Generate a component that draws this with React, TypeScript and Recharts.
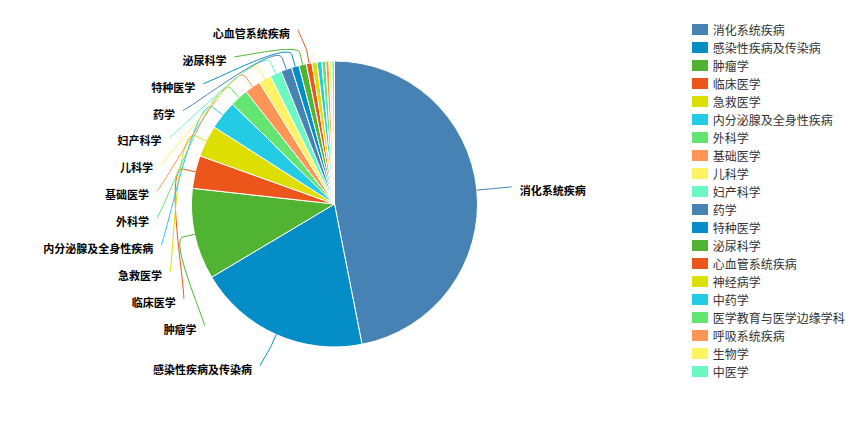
import React from 'react';
import { PieChart, Pie, Cell, Legend } from 'recharts';

// Publication counts by discipline
const categories = [
  '消化系统疾病',
  '感染性疾病及传染病',
  '肿瘤学',
  '临床医学',
  '急救医学',
  '内分泌腺及全身性疾病',
  '外科学',
  '基础医学',
  '儿科学',
  '妇产科学',
  '药学',
  '特种医学',
  '泌尿科学',
  '心血管系统疾病',
  '神经病学',
  '中药学',
  '医学教育与医学边缘学科',
  '呼吸系统疾病',
  '生物学',
  '中医学',
];
const counts = [1689, 703, 371, 134, 129, 118, 74, 65, 51, 47, 44, 31, 30, 23, 21, 19, 16, 13, 11, 11];
const palette = ['#4682B4', '#058DC7', '#50B432', '#ED561B', '#DDDF00', '#24CBE5', '#64E572', '#FF9655', '#FFF263', '#6AF9C4'];

const data = categories.map((name, i) => ({ name, value: counts[i] }));

const WIDTH = 851;
const HEIGHT = 406;
const CX = 326.5;
const CY = 196;
const R = 143;
const STUB = 12; // first, radial leg of each label line
const LABEL_R = 177; // natural label height is taken on this ring
const LINE_R = 178; // label lines end on this ring
const LABEL_H = 26.9; // vertical room per label
const LABEL_GAP = 8;
const MIN_LABEL_ANGLE = 2.2; // degrees; thinner slices get no label
const FONT = '"Noto Sans CJK SC", "Noto Sans", sans-serif';

type LabelPos = { i: number; ux: number; uy: number; side: number; x: number; y: number };

// Places outside labels, pushing overlapping ones down on each side
function layoutLabels(): Map<number, LabelPos> {
  const total = counts.reduce((a, b) => a + b, 0);
  let acc = 0;
  const labels: LabelPos[] = [];
  counts.forEach((v, i) => {
    const start = (acc / total) * 360;
    acc += v;
    const end = (acc / total) * 360;
    if (end - start < MIN_LABEL_ANGLE) return;
    const rad = (((start + end) / 2) * Math.PI) / 180;
    const ux = Math.sin(rad);
    const uy = -Math.cos(rad);
    labels.push({ i, ux, uy, side: ux < 0 ? -1 : 1, x: CX + ux * LABEL_R, y: CY + uy * LABEL_R });
  });
  [-1, 1].forEach((side) => {
    const group = labels.filter((l) => l.side === side).sort((a, b) => a.y - b.y);
    let prev = -Infinity;
    group.forEach((l) => {
      l.y = Math.max(l.y, prev + LABEL_H);
      prev = l.y;
      const dy = l.y - CY;
      const dx = Math.abs(dy) < LINE_R ? Math.sqrt(LINE_R * LINE_R - dy * dy) : Math.abs(l.x - CX);
      l.x = CX + side * dx;
    });
  });
  return new Map(labels.map((l) => [l.i, l]));
}

const labelLayout = layoutLabels();

const renderLabel = (props: any) => {
  const lab = labelLayout.get(props.index);
  if (!lab) return null;
  const color = palette[lab.i % palette.length];
  const p1 = [CX + lab.ux * R, CY + lab.uy * R];
  const p2 = [CX + lab.ux * (R + STUB), CY + lab.uy * (R + STUB)];
  const p3 = [lab.x, lab.y];
  const d2 = Math.hypot(p3[0] - p2[0], p3[1] - p2[1]);
  // smooth sweep: leave the stub radially, then head straight for the label
  const k = 0.15 * d2;
  const c1 = [p2[0] + lab.ux * k, p2[1] + lab.uy * k];
  const c2 = [p3[0] + (p2[0] - p3[0]) * 0.15, p3[1] + (p2[1] - p3[1]) * 0.15];
  const d = `M${p1[0]},${p1[1]} L${p2[0]},${p2[1]} C${c1[0]},${c1[1]} ${c2[0]},${c2[1]} ${p3[0]},${p3[1]}`;
  return (
    <g key={`label-${lab.i}`}>
      <path d={d} stroke={color} strokeWidth={1} fill="none" />
      <text
        x={lab.x + lab.side * LABEL_GAP}
        y={lab.y + 3}
        textAnchor={lab.side < 0 ? 'end' : 'start'}
        dominantBaseline="central"
        fontFamily={FONT}
        fontSize={11}
        fontWeight="bold"
        fill="#000"
      >
        {categories[lab.i]}
      </text>
    </g>
  );
};

const renderLegend = () => (
  <div style={{ fontFamily: FONT, fontSize: 12, color: '#333' }}>
    {categories.map((name, i) => (
      <div key={name} style={{ display: 'flex', alignItems: 'center', height: 18, whiteSpace: 'nowrap' }}>
        <span
          style={{
            display: 'inline-block',
            width: 16,
            height: 11,
            background: palette[i % palette.length],
            marginRight: 5,
          }}
        />
        <span>{name}</span>
      </div>
    ))}
  </div>
);

export default function App() {
  return (
    <PieChart width={WIDTH} height={HEIGHT} margin={{ top: 0, right: 0, bottom: 0, left: 0 }}>
      <Pie
        data={data}
        dataKey="value"
        nameKey="name"
        cx={CX}
        cy={CY}
        outerRadius={R}
        startAngle={90}
        endAngle={-270}
        stroke="#fff"
        strokeWidth={1}
        label={renderLabel}
        labelLine={false}
        isAnimationActive={false}
      >
        {data.map((d, i) => (
          <Cell key={d.name} fill={palette[i % palette.length]} />
        ))}
      </Pie>
      <Legend
        layout="vertical"
        verticalAlign="top"
        align="right"
        content={renderLegend}
        wrapperStyle={{ left: 683.7, top: 12.3, right: 'auto', width: 168 }}
      />
    </PieChart>
  );
}
